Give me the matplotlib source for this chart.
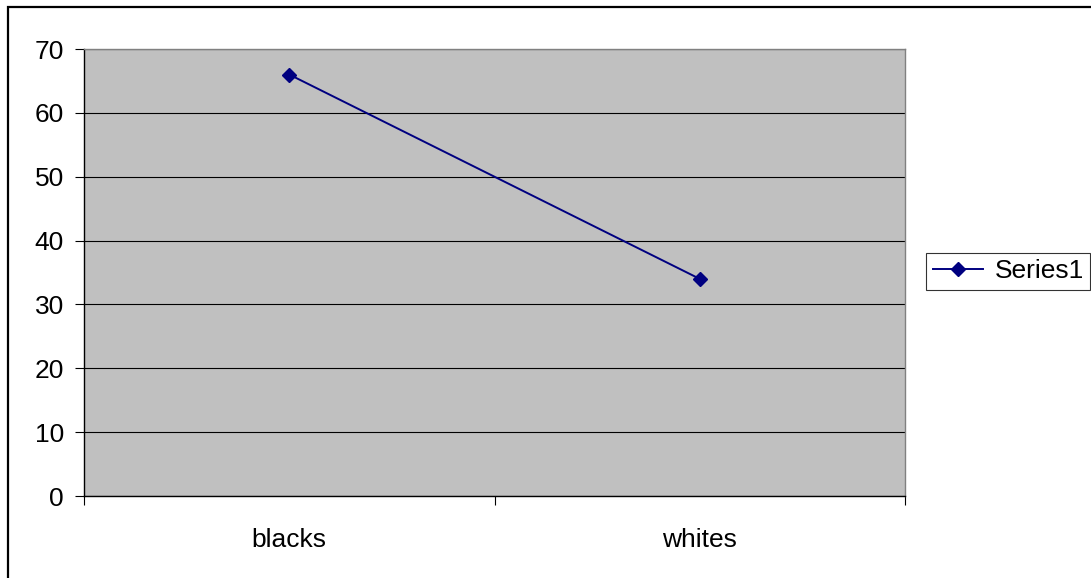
import matplotlib.pyplot as plt
from matplotlib.patches import Rectangle

# data
categories = ['blacks', 'whites']
series1 = [66, 34]
yticks = [0, 10, 20, 30, 40, 50, 60, 70]

plt.rcParams['font.family'] = ['Liberation Sans', 'DejaVu Sans']

fig = plt.figure(figsize=(10.91, 5.78), dpi=100)
ax = fig.add_axes([84 / 1091, 1 - 496 / 578, 821 / 1091, 447 / 578])
ax.set_facecolor('#c0c0c0')

# category positions centred between boundary ticks
xpos = [i + 0.5 for i in range(len(categories))]
line, = ax.plot(xpos, series1, color='#000080', linewidth=1.4,
                marker='D', markersize=7, label='Series1', zorder=3)

ax.set_xlim(0, len(categories))
ax.set_ylim(0, 70)
ax.set_yticks(yticks)
ax.set_yticklabels([str(v) for v in yticks])
ax.set_xticks(range(len(categories) + 1))
ax.set_xticklabels([])
ax.set_xticks(xpos, minor=True)
ax.set_xticklabels(categories, minor=True)

ax.yaxis.grid(True, color='black', linewidth=0.8)
ax.set_axisbelow(True)

ax.tick_params(axis='y', which='major', direction='out', length=6.5, width=0.8,
               labelsize=19, pad=8)
ax.tick_params(axis='x', which='major', direction='out', length=6.5, width=0.8)
ax.tick_params(axis='x', which='minor', length=0, labelsize=19, pad=23)

for side in ['left', 'bottom']:
    ax.spines[side].set_color('black')
    ax.spines[side].set_linewidth(1.0)
for side in ['top', 'right']:
    ax.spines[side].set_color('#808080')
    ax.spines[side].set_linewidth(1.0)

leg = ax.legend(loc='center left', bbox_to_anchor=(926 / 1091, 1 - 271.5 / 578),
                bbox_transform=fig.transFigure, fontsize=19, frameon=True,
                fancybox=False, handlelength=1.9, handletextpad=0.45,
                borderpad=0.25, borderaxespad=0)
leg.get_frame().set_edgecolor('black')
leg.get_frame().set_linewidth(0.8)

# outer chart border (right and bottom cut off in the reference)
fig.patches.append(Rectangle((8 / 1091, -0.2), 2.0, 1.2 - 7 / 578,
                             transform=fig.transFigure, fill=False,
                             edgecolor='black', linewidth=1.6))

fig.savefig('out.png', dpi=100)
